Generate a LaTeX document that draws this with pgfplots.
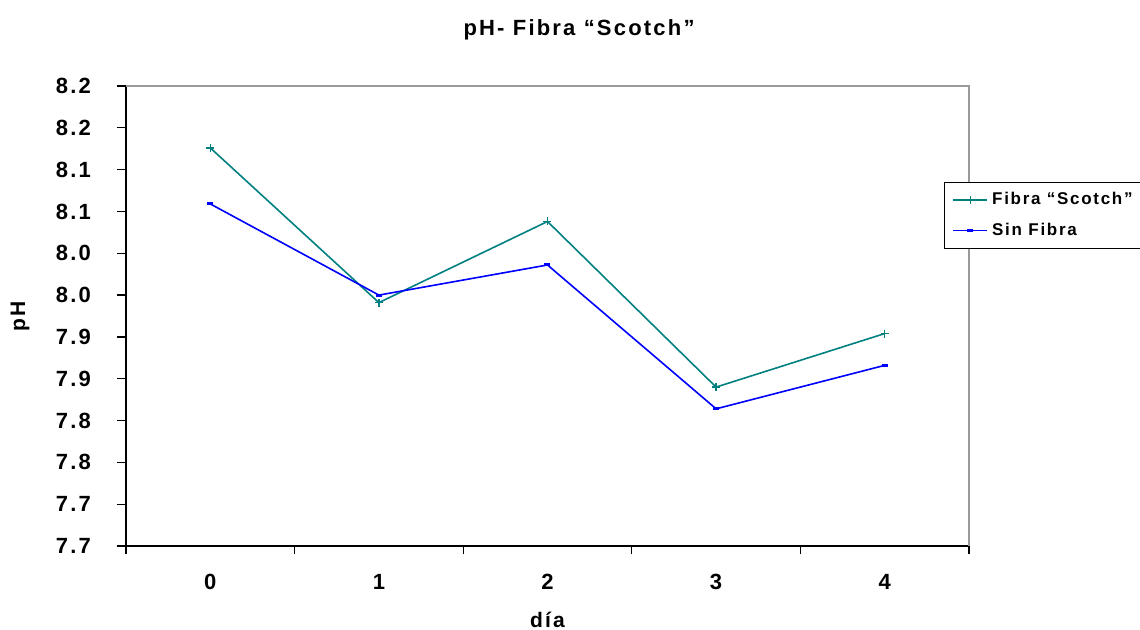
\documentclass[border=0pt]{standalone}
\usepackage{fontspec}
\setmainfont{Liberation Sans}[LetterSpace=10]
\usepackage{pgfplots}
\pgfplotsset{compat=1.18}
\definecolor{tealc}{RGB}{0,128,128}
\definecolor{bluec}{RGB}{0,0,255}
\begin{document}
\begin{tikzpicture}
\begin{axis}[
  at={(0pt,0pt)}, anchor=south west,
  scale only axis, width=421.5pt, height=230pt,
  xmin=-0.5, xmax=4.5, ymin=7.65, ymax=8.20,
  axis x line*=bottom, axis y line*=left,
  axis line style={black, line width=0.6pt},
  tick align=outside,
  xtick={0,1,2,3,4},
  xticklabels={0,1,2,3,4},
  major x tick style={draw=none},
  minor xtick={-0.5,0.5,1.5,2.5,3.5,4.5},
  minor x tick style={black, line width=0.6pt},
  minor tick length=4pt,
  ytick={7.65,7.70,7.75,7.80,7.85,7.90,7.95,8.00,8.05,8.10,8.15,8.20},
  yticklabels={7.7,7.7,7.8,7.8,7.9,7.9,8.0,8.0,8.1,8.1,8.2,8.2},
  major y tick style={black, line width=0.6pt},
  major tick length=4.5pt,
  /pgf/number format/assume math mode=true,
  tick label style={font=\fontsize{11}{13}\selectfont\bfseries},
  xticklabel style={yshift=-6pt},
  yticklabel style={xshift=-9.5pt},
  title={pH- Fibra “Scotch”},
  title style={at={(axis description cs:0.5374,1.095)}, anchor=center, font=\fontsize{11}{13}\selectfont\bfseries},
  xlabel={día},
  xlabel style={at={(axis description cs:0.5,-0.1609)}, anchor=center, font=\fontsize{10.5}{12}\selectfont\bfseries},
  ylabel={pH},
  ylabel style={at={(axis description cs:-0.1257,0.5)}, anchor=center, rotate=0, font=\fontsize{10.5}{12}\selectfont\bfseries},
  legend style={at={(0.9703,0.7913)}, anchor=north west, draw=black, line width=0.5pt,
    font=\fontsize{8.5}{10}\selectfont\bfseries, inner xsep=4pt, inner ysep=3pt,
    row sep=3.5pt, cells={anchor=west}},
  legend cell align=left,
  clip=false,
]
\draw[gray!80, line width=0.9pt] (rel axis cs:0,1) -- (rel axis cs:1,1) -- (rel axis cs:1,0);
\addplot[tealc, line width=0.8pt, mark=+, mark size=2pt, mark options={line width=0.7pt}]
  coordinates {(0,8.126) (1,7.941) (2,8.038) (3,7.840) (4,7.904)};
\addlegendentry{Fibra “Scotch”}
\addplot[bluec, line width=0.8pt, mark=-, mark size=1.5pt, mark options={line width=1.5pt}]
  coordinates {(0,8.059) (1,7.950) (2,7.986) (3,7.814) (4,7.866)};
\addlegendentry{Sin Fibra}
\end{axis}
\pgfresetboundingbox
\path[use as bounding box] (-63pt,-42pt) rectangle (507pt,273pt);
\end{tikzpicture}
\end{document}
